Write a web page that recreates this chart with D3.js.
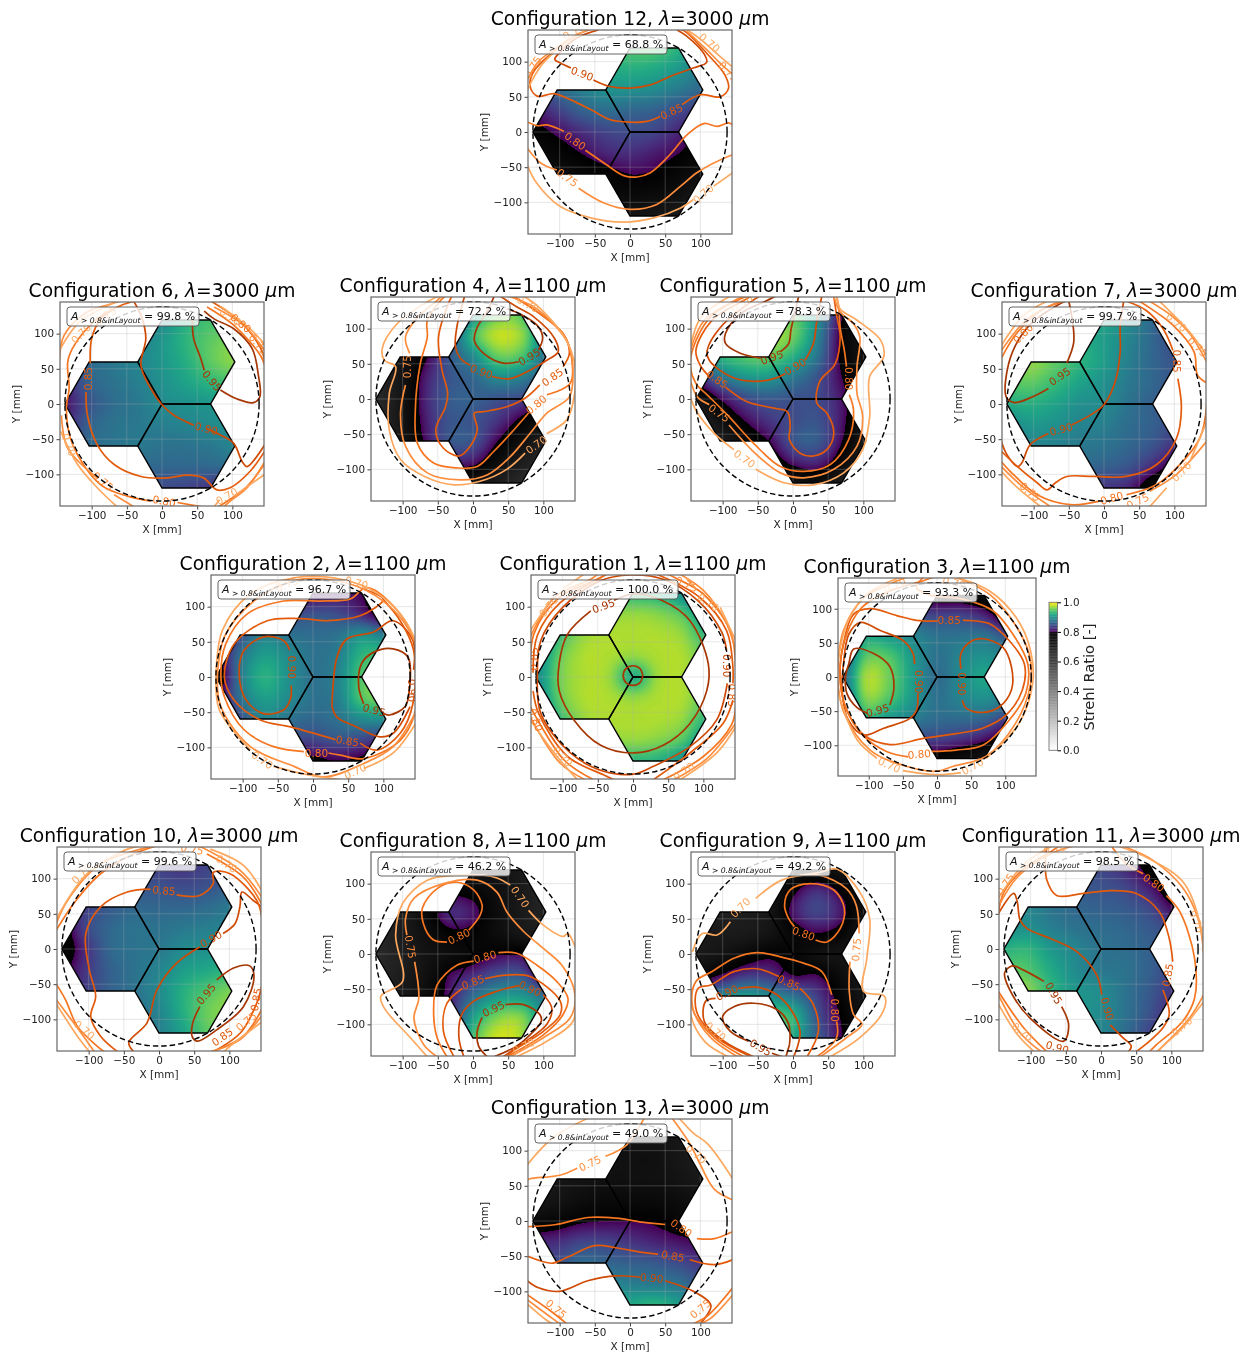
<!DOCTYPE html>
<html>
<head>
<meta charset="utf-8">
<script src="https://cdn.jsdelivr.net/npm/d3@7"></script>
<style>
body { margin: 0; background: #fff; }
text { font-family: "DejaVu Sans", sans-serif; }
svg { filter: blur(0.35px); }
</style>
</head>
<body>
<div id="chart"></div>
<script>
const configs = [12, 6, 4, 5, 7, 2, 1, 3, 10, 8, 9, 11, 13];
const wavelengths = [3000, 3000, 1100, 1100, 3000, 1100, 1100, 1100, 3000, 1100, 1100, 3000, 3000];
const areaInLayout = ['68.8', '99.8', '72.2', '78.3', '99.7', '96.7', '100.0', '93.3', '99.6', '46.2', '49.2', '98.5', '49.0'];
const levels = [0.70, 0.75, 0.80, 0.85, 0.90, 0.95];
const axisTicks = [-100, -50, 0, 50, 100];
const barTicks = [0, 0.2, 0.4, 0.6, 0.8, 1.0];
const gridX = [-140, -105, -70, -35, 0, 35, 70, 105];
const gridY = [120, 90, 60, 30, 0, -30, -60, -90, -120];

// strehl ratio sampled inside the layout, rows follow gridY, columns gridX
const strehl12 = [
  [.80,.86,.90,.93,.945,.945,.925,.88],
  [.82,.89,.905,.92,.925,.92,.905,.88],
  [.83,.865,.885,.90,.90,.895,.88,.865],
  [.81,.835,.86,.87,.865,.86,.845,.83],
  [.785,.805,.825,.84,.845,.84,.82,.80],
  [.76,.78,.80,.82,.825,.815,.80,.775],
  [.74,.755,.77,.785,.80,.795,.775,.75],
  [.72,.735,.75,.76,.77,.765,.75,.72],
  [.70,.71,.72,.73,.735,.73,.72,.70]];
const strehl6 = [
  [.83,.86,.87,.875,.895,.925,.94,.93],
  [.84,.865,.875,.885,.905,.93,.95,.96],
  [.83,.865,.88,.89,.905,.925,.95,.965],
  [.82,.86,.875,.885,.90,.915,.93,.94],
  [.81,.85,.87,.88,.895,.90,.905,.91],
  [.82,.86,.875,.88,.885,.89,.895,.90],
  [.83,.865,.875,.88,.875,.875,.88,.89],
  [.82,.85,.86,.865,.865,.865,.865,.87],
  [.80,.82,.84,.85,.845,.84,.83,.82]];
const strehl4 = [
  [.68,.68,.72,.78,.90,.955,.945,.86],
  [.68,.70,.76,.83,.935,.98,.965,.88],
  [.69,.72,.79,.85,.895,.95,.94,.87],
  [.68,.73,.81,.85,.865,.895,.885,.85],
  [.67,.73,.815,.855,.86,.85,.84,.80],
  [.66,.73,.81,.85,.85,.83,.79,.75],
  [.65,.72,.80,.85,.85,.80,.75,.70],
  [.64,.70,.77,.81,.81,.76,.71,.67],
  [.62,.66,.70,.74,.74,.71,.67,.63]];
const strehl5 = [
  [.80,.86,.90,.93,.95,.90,.80,.74],
  [.83,.90,.95,.97,.955,.89,.79,.74],
  [.84,.92,.945,.95,.925,.875,.79,.74],
  [.82,.87,.90,.905,.88,.85,.80,.75],
  [.74,.80,.84,.855,.85,.845,.81,.75],
  [.68,.75,.80,.83,.845,.85,.81,.74],
  [.65,.70,.76,.80,.85,.855,.80,.72],
  [.62,.66,.71,.76,.81,.82,.77,.70],
  [.60,.62,.66,.70,.74,.76,.71,.66]];
const strehl7 = [
  [.90,.91,.91,.915,.915,.895,.865,.83],
  [.93,.94,.935,.925,.91,.89,.865,.84],
  [.95,.965,.95,.93,.91,.885,.865,.85],
  [.945,.95,.935,.915,.90,.88,.865,.85],
  [.92,.925,.915,.90,.895,.875,.86,.845],
  [.89,.905,.90,.89,.885,.87,.86,.84],
  [.86,.885,.885,.88,.875,.865,.85,.825],
  [.83,.85,.86,.865,.86,.85,.82,.78],
  [.79,.80,.82,.83,.83,.82,.765,.72]];
const strehl2 = [
  [.74,.76,.79,.80,.80,.81,.80,.75],
  [.75,.80,.83,.84,.85,.845,.82,.78],
  [.76,.84,.885,.875,.87,.875,.90,.88],
  [.78,.87,.91,.895,.875,.885,.93,.94],
  [.76,.875,.925,.90,.875,.89,.945,.96],
  [.78,.87,.91,.895,.875,.885,.945,.96],
  [.76,.84,.885,.875,.865,.875,.895,.90],
  [.74,.79,.82,.84,.84,.85,.84,.82],
  [.72,.74,.76,.78,.79,.80,.79,.76]];
const strehl1 = [
  [.78,.83,.895,.925,.93,.925,.895,.83],
  [.82,.895,.945,.962,.967,.962,.945,.895],
  [.85,.93,.967,.975,.975,.975,.967,.93],
  [.88,.95,.975,.975,.967,.975,.975,.95],
  [.89,.955,.975,.97,.925,.97,.975,.955],
  [.88,.95,.975,.975,.967,.975,.975,.95],
  [.85,.93,.967,.975,.975,.975,.967,.93],
  [.82,.895,.945,.962,.967,.962,.945,.895],
  [.78,.83,.895,.925,.93,.925,.895,.83]];
const strehl3 = [
  [.76,.80,.82,.80,.78,.78,.76,.73],
  [.80,.84,.855,.85,.84,.84,.82,.77],
  [.83,.91,.905,.89,.875,.875,.875,.85],
  [.85,.945,.945,.905,.875,.89,.90,.885],
  [.86,.97,.955,.91,.87,.895,.915,.89],
  [.85,.96,.945,.905,.875,.89,.90,.88],
  [.82,.92,.905,.885,.87,.87,.865,.84],
  [.78,.83,.84,.84,.84,.83,.81,.77],
  [.73,.76,.78,.78,.78,.76,.74,.71]];
const strehl10 = [
  [.78,.81,.83,.84,.835,.83,.84,.84],
  [.79,.82,.84,.85,.85,.845,.85,.86],
  [.80,.835,.855,.865,.865,.865,.87,.88],
  [.78,.84,.865,.875,.875,.88,.885,.89],
  [.77,.825,.865,.875,.88,.895,.90,.90],
  [.79,.83,.86,.875,.89,.91,.92,.93],
  [.80,.835,.86,.875,.895,.925,.945,.96],
  [.80,.83,.85,.87,.89,.925,.955,.965],
  [.78,.80,.83,.86,.885,.915,.95,.95]];
const strehl8 = [
  [.66,.67,.68,.70,.72,.74,.72,.68],
  [.66,.68,.72,.78,.78,.75,.72,.68],
  [.67,.70,.76,.82,.81,.76,.72,.69],
  [.68,.71,.75,.79,.79,.76,.73,.71],
  [.67,.70,.74,.76,.78,.80,.80,.74],
  [.68,.71,.745,.80,.825,.85,.85,.78],
  [.69,.72,.76,.81,.87,.905,.905,.87],
  [.70,.73,.77,.82,.91,.96,.96,.89],
  [.70,.74,.78,.84,.94,.985,.97,.88]];
const strehl9 = [
  [.68,.66,.67,.70,.74,.76,.74,.70],
  [.68,.68,.69,.72,.79,.825,.79,.74],
  [.70,.70,.71,.73,.81,.84,.81,.74],
  [.72,.72,.72,.74,.78,.80,.78,.72],
  [.72,.74,.77,.79,.78,.75,.74,.72],
  [.77,.80,.83,.83,.80,.80,.76,.72],
  [.85,.89,.91,.895,.875,.835,.78,.73],
  [.88,.94,.965,.95,.93,.85,.795,.74],
  [.88,.93,.96,.94,.92,.86,.80,.74]];
const strehl11 = [
  [.86,.86,.86,.85,.84,.82,.78,.72],
  [.87,.87,.86,.855,.85,.84,.81,.76],
  [.88,.89,.875,.865,.86,.855,.84,.80],
  [.895,.90,.885,.875,.87,.865,.855,.84],
  [.925,.93,.905,.89,.875,.87,.86,.845],
  [.95,.945,.92,.895,.88,.875,.86,.84],
  [.97,.965,.93,.905,.895,.875,.855,.83],
  [.97,.96,.93,.905,.895,.875,.85,.82],
  [.96,.95,.92,.90,.89,.87,.84,.81]];
const strehl13 = [
  [.70,.71,.72,.73,.74,.74,.73,.70],
  [.71,.72,.73,.74,.75,.75,.73,.71],
  [.72,.73,.74,.75,.75,.75,.74,.72],
  [.73,.74,.76,.77,.77,.77,.76,.74],
  [.77,.78,.795,.80,.80,.795,.78,.77],
  [.82,.825,.84,.84,.83,.82,.81,.80],
  [.85,.85,.87,.865,.86,.855,.845,.83],
  [.88,.885,.90,.895,.885,.88,.875,.85],
  [.89,.90,.92,.925,.92,.93,.91,.87]];

// contour traces: [level, x0, y0, x1, y1, ...] in mm
const lines12 = [
  [.90,-52,74,-30,65,0,62.5,29,67,62,81,90,91,109,99,106,110,81,136,67,145],
  [.90,-84,91,-99,98,-107,103,-101,112,-75,134,-45,145],
  [.85,43,22,24,15,0,14,-28,17.5,-56,32,-85,46,-108,54.5,-132,51,-142,65,-137,86,-111,112,-75,138,-56,146],
  [.85,74,39,100,53,128,50,140,62,135,81,109,112,81,141,72,146],
  [.80,-145,14,-132,9,-118,10,-94,1],
  [.80,-63.5,-26,-37,-44,-9,-62,10,-64,29,-58,57,-32,81,-4,105,12,124,8,140,13,146,10],
  [.75,-146,-23,-127,-44,-104,-54],
  [.75,-73,-80,-37,-101,0,-110,38,-103,72,-77,95,-58,119,-44,146,-32],
  [.75,-146,74,-130,100,-101,122,-71,141],
  [.75,146,82,128,98,109,117,81,143],
  [.70,-146,-47,-133,-72,-99,-106,-56,-122,-9,-128,34,-122,72,-108,90,-96],
  [.70,119,-77,146,-58],
  [.70,-146,60,-125,96,-90,128,-60,146],
  [.70,146,92,125,110,100,132,80,146]];
const labels12 = [[.90,-68,83,20],[.85,59,29,-25],[.80,-78,-13,35],[.75,-89,-65,35],[.70,104,-88,-40],[.70,113,127,40],[.75,140,86,45],[.70,-80,143,-30],[.75,-138,92,-60]];

const lines6 = [
  [.95,43,119,45,93,55,65,60,48],
  [.95,83,20,107,7,130,2,139,10,137,41,128,79,102,107,74,121,60,132],
  [.90,63,-35,83,-44,102,-56,114,-82,121,-89,133,-77,146,-58],
  [.90,45,-30,17,-16,0,-1,-16,22,-30,55,-23,93,-28,121,-40,146],
  [.85,-108,17,-106,-16,-92,-58,-68,-86,-30,-103,8,-105,36,-101,59,-105,78,-122,97,-119,125,-96,146,-67],
  [.85,-102,58,-100,93,-87,121,-63,138,-40,146],
  [.85,70,146,110,118,140,80,146,62],
  [.80,-58,140,-92,121,-125,83,-134,60,-132,22,-136,-6,-127,-58,-87,-115,-49,-131,-16,-138],
  [.80,22,-140,55,-146],
  [.80,64,138,102,112,140,69,146,55],
  [.80,146,-85,120,-118,90,-140,80,-146],
  [.75,-146,60,-139,98,-106,131,-73,142,-60,146],
  [.75,-143,-16,-134,-63,-92,-105],
  [.75,-68,-129,-40,-146],
  [.75,74,138,116,112,146,76],
  [.75,146,-82,121,-119,97,-138,88,-146],
  [.70,-146,76,-117,117,-77,140,-65,146],
  [.70,-144,-39,-120,-86,-92,-119,-64,-146],
  [.70,83,139,125,107,146,85],
  [.70,146,-100,102,-131],[.70,82,-136,74,-146]];
const labels6 = [[.95,71,33,50],[.90,63,-35,15],[.85,-105,36,-90],[.80,3,-138,10],[.75,-84,-110,40],[.70,-132,-58,70],[.70,92,-131,-30],[.70,97,124,35],[.80,112,115,40],[.75,137,85,50],[.70,-115,100,-45],[.75,-80,125,-35]];

const lines4 = [
  [.95,65,53,43,51,15,65,2,83,6,102,20,124,30,146],
  [.95,93,69,99,88,91,105,67,121,48,128],
  [.90,-4,48,-18,58,-25,74,-23,102,-15,135,-12,146],
  [.90,27,32,53,29,81,41,105,55,121,67,116,86,86,117,62,131,39,146],
  [.85,95,20,74,1,48,-11,15,-18,2,-20,6,-44,-4,-67,-20,-81,-42,-70,-53,-44,-39,-11,-36,8,-44,41,-49,88,-34,138,-30,146],
  [.85,128,46,137,65,128,93,95,121,58,146],
  [.80,79,-20,58,-44,29,-75,6,-96,-23,-98,-56,-91,-79,-63,-82,-16,-75,50,-65,88,-65,112,-46,140,-40,146],
  [.80,105,6,138,22,140,60,128,93,86,128,55,146],
  [.75,-96,20,-103,-20,-96,-67,-65,-105,-18,-115,20,-108,53,-82,81,-49,105,-20,137,3,142,41,135,79,91,128,50,146],
  [.75,-90,65,-96,88,-79,116,-51,140,-45,146],
  [.70,74,-77,48,-100,10,-117,-27,-122,-65,-112,-103,-86,-119,-44,-119,8,-110,46,-126,55,-129,72,-108,107,-70,135,-50,146],
  [.70,105,-49,133,-30,142,-6,146,41,133,83,91,133,72,146]];
const labels4 = [[.95,80,60,-30],[.90,12,39,20],[.85,113,31,-35],[.80,90,-8,-40],[.75,-93,46,-90],[.70,90,-65,-35],[.70,78,135,30]];

const lines5 = [
  [.95,-18,67,-6,79,-3,98,3,124,8,146],
  [.95,-46,58,-75,65,-96,79,-96,93,-75,121,-37,140,-25,146],
  [.90,-11,36,-27,29,-56,25,-89,32,-119,55,-122,69,-103,102,-60,138,-48,146],
  [.90,17,55,29,79,34,112,41,146],
  [.85,-96,17,-65,-4,-27,-13,-8,-18,-4,-39,-5,-58,10,-77,29,-81,48,-72,58,-49,48,-20,34,-6,38,25,60,50,67,88,62,119,58,146],
  [.85,-119,32,-132,48,-138,69,-115,112,-70,140,-60,146],
  [.80,80,6,86,-16,79,-58,53,-93,15,-103,-18,-96,-56,-63,-91,-25,-122,6,-138,22,-146,50,-138,83,-115,119,-75,142,-65,146],
  [.80,76,46,73,69,67,102,65,131,62,146],
  [.75,-119,-8,-136,3,-146,27],
  [.75,-91,-37,-56,-75,-18,-105,15,-112,58,-100,91,-67,99,-25,91,8,91,46,95,88,86,107,67,124,58,146],
  [.75,-146,69,-126,112,-79,142,-70,146],
  [.70,-84,-72,-112,-49,-138,-16,-146,3],
  [.70,-146,74,-131,116,-100,140,-89,146],
  [.70,-53,-100,-13,-119,29,-122,72,-105,99,-72,109,-25,109,32,129,60,125,83,91,112,67,128,62,146]];
const labels5 = [[.95,-30,59,-20],[.90,3,46,-30],[.85,-108,28,35],[.80,79,29,90],[.75,-105,-20,35],[.70,-69,-85,35],[.70,-72,135,-30]];

const lines7 = [
  [.95,-53,58,-43,88,-46,126,-50,146],
  [.95,-79,22,-102,10,-128,2,-139,10,-138,46,-126,83,-102,116,-67,140,-55,146],
  [.90,-46,-30,-15,-13,0,-1,16,32,23,74,23,112,28,146],
  [.90,-79,-42,-105,-58,-117,-84,-123,-89,-138,-72,-146,-53],
  [.85,105,36,110,-6,103,-49,75,-86,32,-103,-15,-103,-53,-103,-69,-112,-81,-122,-95,-112,-123,-89,-146,-67],
  [.85,98,76,84,107,60,133,32,146],
  [.80,32,-129,70,-117,98,-96,136,-49,146,-1],
  [.80,146,30,133,41,128,74,98,112,60,140,50,146],
  [.80,-6,-138,-48,-143,-95,-129,-133,-96,-146,-82],
  [.80,-146,65,-123,102,-86,135,-55,146],
  [.75,65,-124,103,-100,146,-53],
  [.75,146,60,122,100,98,124,65,146],
  [.75,-146,76,-109,121,-72,142,-60,146],
  [.75,-146,-89,-114,-119,-76,-146],
  [.70,89,-119,65,-146],
  [.70,122,-82,146,-25],
  [.70,79,146,122,102,146,69],
  [.70,-146,83,-114,126,-81,146],
  [.70,-146,-96,-123,-119,-90,-146]];
const labels7 = [[.95,-63,39,-35],[.90,-61,-36,-15],[.85,103,61,90],[.80,11,-134,-15],[.75,48,-138,-25],[.70,110,-96,-45],[.70,103,116,40],[.75,133,81,45],[.80,-115,100,-45],[.75,-105,-125,40]];

const lines2 = [
  [.95,72,-38,65,-14,69,19,86,35,114,40,135,28,137,-19,131,-42,109,-54,100,-52],
  [.90,-33,38,-42,52,-70,57,-98,38,-105,5,-95,-33,-70,-52,-42,-47,-32,-31,-31,-12],
  [.90,27,-42,28,-19,34,28,48,54,86,64,114,80,142,52,143,10],
  [.90,138,-42,114,-80,95,-85,62,-71,34,-57,27,-42],
  [.85,32,-89,-32,-71,-75,-61,-112,-33,-126,0,-112,47,-65,80,-18,83,20,80,67,87,86,97,100,110,72,125],
  [.85,67,-94,91,-104,124,-80,142,-38,143,38,124,80,100,110],
  [.80,-13,-106,-56,-99,-98,-75,-126,-28,-131,5,-124,47,-93,90,-42,108,10,108,53,111,76,127,114,101,146,47,146,-47,124,-90,72,-116,39,-111,22,-108],
  [.75,-136,0,-131,-42,-89,-99,-27,-127,15,-142,72,-123,114,-99,146,-50],
  [.75,-136,0,-126,57,-84,108,-27,137,20,139,76,123,124,85,146,47],
  [.70,-138,0,-133,-47,-89,-104],
  [.70,-56,-127,-8,-139,39,-146],
  [.70,72,-130,114,-108,146,-66],
  [.70,-138,0,-129,66,-89,118,-27,141,29,141,81,125,124,90,146,52]];
const labels2 = [[.95,87,-47,15],[.90,-30,14,90],[.90,141,-19,90],[.85,49,-91,10],[.80,5,-108,0],[.70,-72,-118,35],[.70,60,-134,-25],[.75,-37,132,-20],[.70,62,134,15]];

const lines1 = [
  [.95,-60,94,-93,61,-105,19,-105,-19,-84,-61,-46,-97,1,-108,43,-97,81,-66,105,-19,107,19,81,80,43,108,1,118,-27,109],
  [.95,14,2,10,12,0,16,-10,12,-14,2,-10,-8,0,-12,10,-8,14,2],
  [.90,133,38,126,64,93,108,43,139,-4,145,-46,137,-100,99,-131,52,-136,0,-131,-52,-89,-108,-42,-134,1,-138,29,-127,81,-99,119,-61,134,-9],
  [.85,142,-9,142,14,133,66,95,113,34,146],
  [.85,-37,146,-103,106,-136,59,-142,6],
  [.85,-142,-20,-134,-52,-93,-113,-42,-139,-27,-146],
  [.85,29,-146,81,-108,128,-66,142,-33],
  [.80,146,14,138,66,100,118,62,140,50,146],
  [.80,-146,5,-141,61,-105,113,-46,141,-40,146],
  [.80,-146,-42,-98,-118,-56,-146],
  [.80,43,-146,100,-113,140,-68,146,-42],
  [.75,146,38,131,80,100,123,67,146],
  [.75,-146,57,-112,113,-60,139,-50,146],
  [.75,-146,-57,-103,-123,-68,-146],
  [.75,58,-146,105,-116,146,-66],
  [.70,146,52,124,99],[.70,90,125,76,140],
  [.70,-146,66,-120,105],[.70,-100,125,-70,146],
  [.70,-146,-61,-108,-113,-79,-146],
  [.70,67,-146,119,-108,146,-71]];
const labels1 = [[.95,-42,101,-20],[.90,133,16,90],[.85,140,-26,90],[.85,-141,26,-90],[.80,-138,-61,70],[.70,107,106,35],[.75,76,132,25],[.70,-120,100,-50],[.70,-100,-113,45],[.70,72,-134,-35]];

const lines3 = [
  [.95,-102,-53,-117,-45,-132,-24,-134,0,-129,20,-122,41,-92,34,-69,15,-63,-15,-69,-41],
  [.90,-33,19,-35,34,-49,53,-83,68,-112,80,-129,63,-137,19,-139,-19,-130,-63,-107,-85,-78,-75,-40,-61,-30,-49,-28,-24],
  [.90,35,12,35,34,48,51,67,56,96,44,109,15,109,-19,91,-44,67,-52,43,-46,37,-34],
  [.85,1,82,-30,83,-59,90,-98,100,-122,92,-137,49,-142,0,-134,-44,-107,-85,-69,-99,-20,-90,28,-83,67,-75,101,-56,125,-19,128,19,106,53,77,78,38,83],
  [.80,-8,-109,28,-107,67,-100,106,-63,130,-24,133,19,111,63,82,97,38,114,-10,120,-30,131,-20,146],
  [.80,-42,-117,-74,-109,-107,-87,-132,-49,-142,0,-134,58,-110,102,-69,126,-20,141,-5,146],
  [.75,-146,0,-136,-53,-98,-107,-44,-131,-1,-138,23,-131,72,-116,115,-68,137,-10,135,34,111,82,77,121,28,146],
  [.75,-146,0,-137,68,-107,116,-69,136,-45,146],
  [.70,-146,-19,-117,-92,-88,-119],
  [.70,-50,-137,-1,-143,35,-140],
  [.70,72,-119,120,-68,140,-10,137,39,116,87,77,126,28,146],
  [.70,-146,15,-132,78,-103,121,-54,146]];
const labels3 = [[.95,-87,-49,-15],[.90,-26,-7,90],[.90,37,-10,90],[.85,18,83,0],[.80,-26,-113,-5],[.70,-70,-129,25],[.70,52,-131,-30],[.70,-62,135,-25],[.70,25,138,15]];

const lines10 = [
  [.95,82,-44,106,-27,129,-24,135,-39,120,-82,82,-115,54,-131,47,-124,48,-105,58,-82],
  [.90,91,22,108,36,115,60,118,81,134,69,146,60],
  [.90,58,3,25,-20,-3,-58,-17,-105,-43,-133,-36,-146],
  [.85,-12,85,-45,81,-83,60,-104,22,-99,-30,-90,-67,-97,-96,-83,-124,-59,-146],
  [.85,25,77,58,76,77,93,77,109,101,107,139,69,146,46],
  [.85,146,-53,139,-77,116,-119,77,-146],
  [.80,-146,-50,-133,-72,-116,-110,-88,-138,-78,-146],
  [.80,-146,27,-118,69,-83,107,-36,135,-5,146],
  [.80,68,135,120,102,146,64],
  [.80,146,-86,120,-124,76,-146],
  [.75,-146,36,-130,69,-83,121,-26,142,-10,146],
  [.75,58,146,115,112,146,74],
  [.75,-146,-72,-111,-119,-92,-146],
  [.75,146,-95,115,-129,73,-146],
  [.70,-146,41,-139,55,-102,107,-45,142,-30,146],
  [.70,73,142,120,119,146,83],
  [.70,-146,-78,-116,-124,-99,-146],
  [.70,146,-104,106,-134,92,-146]];
const labels10 = [[.95,67,-64,-50],[.90,74,14,-30],[.85,7,83,5],[.70,96,121,35],[.70,-110,107,-45],[.75,47,142,10],[.70,-106,-115,40],[.75,124,-103,-40],[.85,138,-72,-80],[.85,90,-125,-35]];

const lines8 = [
  [.95,13,-90,6,-110,8,-131,20,-146],
  [.95,46,-72,72,-72,95,-86,97,-96,81,-115,62,-131,30,-146],
  [.90,65,-45,34,-53,1,-67,-16,-86,-20,-119,-13,-146],
  [.90,100,-58,112,-77,105,-100,62,-133,43,-146],
  [.85,17,-35,48,-30,81,-32,124,-67,124,-86,100,-110,58,-137,48,-146],
  [.85,-15,-49,-37,-70,-42,-110,-27,-146],
  [.80,36,2,62,1,91,-16,119,-39,135,-63,128,-86,100,-115,48,-146],
  [.80,1,-10,-23,-16,-51,-44,-56,-82,-51,-119,-37,-146],
  [.80,-6,34,10,55,13,69,1,91,-23,102,-51,93,-72,65,-68,36,-56,20,-37,17],
  [.75,-94,27,-96,50,-84,79,-42,100,6,105,34,88,48,60,72,32,100,8,128,-18,145,-58,138,-91,100,-119,53,-146],
  [.75,-83,-11,-77,-63,-84,-91,-70,-129,-51,-146],
  [.70,53,98,34,108,15,112,-23,112,-65,105,-100,72,-110,27,-100,-39,-131,-60,-126,-77,-89,-119,-65,-146],
  [.70,79,62,100,41,128,25,135,29,146,8],
  [.70,146,-53,142,-96,105,-124,62,-146]];
const labels8 = [[.95,29,-78,-25],[.90,81,-49,25],[.85,0,-40,-20],[.80,17,-4,-15],[.80,-20,25,-25],[.75,-89,10,80],[.70,67,81,55],[.70,72,-131,-25]];

const lines9 = [
  [.95,-30,-141,-15,-146],[.95,-5,-129,-6,-100,-23,-79,-56,-70,-84,-75,-100,-89,-89,-110,-63,-124],[.95,-5,-129,-10,-146],
  [.90,-78,-49,-51,-47,-23,-58,-1,-82,10,-110,6,-133,1,-146],
  [.90,-110,-63,-124,-67,-126,-96,-98,-124,-56,-146],
  [.85,-20,-32,-51,-21,-84,-25,-117,-44,-135,-49,-137,-82,-108,-119,-60,-146],
  [.85,10,-49,29,-72,36,-110,20,-146],
  [.80,55,-58,41,-25,15,-13,-18,-4,-51,2,-84,-6,-115,-25,-138,-39,-143,-77,-112,-119,-70,-146],
  [.80,62,-96,62,-119,34,-146],
  [.80,32,20,48,17,67,36,73,65,58,91,25,100,-4,91,-12,69,-6,50,2,39],
  [.75,81,-11,80,-53,86,-86,98,-100,76,-119,39,-146],
  [.75,94,29,90,69,76,93,38,112,10,112],
  [.75,-144,-49,-141,-82,-117,-119,-79,-146],
  [.70,-89,46,-108,27,-129,29,-143,3],
  [.70,-53,79,-16,105,38,116,62,121,95,88,109,50,105,-6,100,-53,130,-60,128,-82,95,-119,53,-146],
  [.70,-146,-53,-146,-85,-125,-125,-92,-146]];
const labels9 = [[.95,-46,-133,30],[.90,-94,-55,-25],[.85,-6,-41,25],[.80,60,-80,90],[.80,15,29,20],[.75,90,6,-85],[.70,-75,66,-45],[.70,-110,-110,40]];

const lines11 = [
  [.95,-81,-46,-110,-30,-126,-24,-137,-34,-126,-65,-96,-103,-53,-131,-46,-108,-56,-82],
  [.90,1,-65,-6,-37,-34,-4,-72,15,-105,29,-115,41,-119,67,-124,79,-146,50],
  [.90,13,-108,31,-126,43,-138,39,-146],
  [.85,102,-18,97,15,83,53,50,79,13,83,-25,79,-63,76,-77,98,-79,124,-77,146],
  [.85,88,-58,97,-93,88,-112,69,-131,50,-146],
  [.80,93,76,112,53,133,-13,133,-70,116,-103,79,-136,69,-146],
  [.80,60,107,36,121,15,146],
  [.80,-146,50,-138,81,-110,114,-72,138,-60,146],
  [.80,-146,-60,-110,-112,-77,-146],
  [.75,146,-4,138,43,117,86,74,126,32,146],
  [.75,146,-65,126,-98,88,-138,80,-146],
  [.75,-146,60,-119,102,-72,135,-40,146],
  [.75,-146,-65,-115,-119,-85,-146],
  [.70,146,-8,140,39,117,95,69,128,25,146],
  [.70,146,-75,116,-112,79,-146],
  [.70,-146,72,-110,120,-70,146],
  [.70,-146,-78,-120,-120,-95,-146]];
const labels11 = [[.95,-67,-63,60],[.90,9,-85,75],[.85,95,-37,-80],[.80,75,94,35],[.70,136,39,70],[.75,-136,92,-55],[.70,-66,142,-15],[.90,-62,-140,15],[.70,-112,-118,40],[.70,115,-110,-40]];

const lines13 = [
  [.80,50,-5,20,-2,-20,4,-60,5,-105,-5,-145,-8],
  [.80,95,-25,120,-25,146,-15],
  [.85,40,-47,20,-45,-20,-38,-50,-35,-90,-52,-110,-60,-146,-50],
  [.85,85,-55,120,-62,146,-55],
  [.90,15,-80,-20,-78,-60,-85,-100,-100,-130,-95,-146,-85],
  [.90,50,-85,90,-100,115,-120,100,-146],
  [.75,-75,75,-100,65,-142,60,-146,58],
  [.75,-35,92,-5,108,20,146],
  [.75,146,30,120,45,100,80,85,110,60,146],
  [.70,146,60,110,110,90,125,70,146],
  [.70,-146,80,-110,118,-60,146],
  [.80,-146,-105,-110,-130,-90,-146],
  [.75,-146,-112,-115,-135,-100,-146],
  [.70,-146,-118,-120,-140,-110,-146],
  [.80,146,-95,110,-135,90,-146],
  [.75,146,-105,115,-138,100,-146]];
const labels13 = [[.80,73,-10,35],[.85,61,-50,10],[.90,31,-81,5],[.75,-57,82,-25],[.70,94,95,40],[.75,100,-125,-40],[.75,-105,-125,40]];

const strehlByConfig = new Map([[12, strehl12], [6, strehl6], [4, strehl4], [5, strehl5], [7, strehl7], [2, strehl2], [1, strehl1], [3, strehl3], [10, strehl10], [8, strehl8], [9, strehl9], [11, strehl11], [13, strehl13]]);
const linesByConfig = new Map([[12, lines12], [6, lines6], [4, lines4], [5, lines5], [7, lines7], [2, lines2], [1, lines1], [3, lines3], [10, lines10], [8, lines8], [9, lines9], [11, lines11], [13, lines13]]);
const labelsByConfig = new Map([[12, labels12], [6, labels6], [4, labels4], [5, labels5], [7, labels7], [2, labels2], [1, labels1], [3, labels3], [10, labels10], [8, labels8], [9, labels9], [11, labels11], [13, labels13]]);

// layout: left, top, size of each axes box in the page
const panelBoxes = new Map([
  [12, [528, 30, 204]], [6, [60, 302, 204]], [4, [371, 297, 204]], [5, [691, 297, 204]], [7, [1002, 302, 204]],
  [2, [211, 575, 204]], [1, [531, 575, 204]], [3, [838, 578, 198]],
  [10, [57, 847, 204]], [8, [371, 852, 204]], [9, [691, 852, 204]], [11, [999, 847, 204]],
  [13, [528, 1119, 204]]
]);

const hexCentres = [[34.5, 59.75], [-69, 0], [34.5, -59.75]];
const hexRadius = 69;
const mirrorRadius = 138;
const axisLimit = 145;

const viridisPart = d3.scaleSequential(d3.interpolateViridis).domain([0.8, 1]);
const grayPart = d3.scaleLinear().domain([0, 0.8]).range(['#ffffff', '#000000']);
const strehlColor = v => d3.color(v < 0.8 ? grayPart(v) : viridisPart(Math.min(v, 1)));
const levelColor = d3.scaleOrdinal().domain(levels).range(['#fda85f', '#fd8d3c', '#f57520', '#e35a0b', '#cf4a05', '#a63603']);

const svg = d3.select('#chart').append('svg')
  .attr('width', 1255)
  .attr('height', 1353);
const defs = svg.append('defs');

function catmull(p0, p1, p2, p3, t) {
  return p1 + 0.5 * t * (p2 - p0 + t * (2 * p0 - 5 * p1 + 4 * p2 - p3 + t * (3 * (p1 - p2) + p3 - p0)));
}

function sampleGrid(grid, mx, my) {
  const cols = gridX.length, rows = gridY.length;
  const fx = Math.max(0, Math.min(cols - 1.001, (mx - gridX[0]) / (gridX[1] - gridX[0])));
  const fy = Math.max(0, Math.min(rows - 1.001, (my - gridY[0]) / (gridY[1] - gridY[0])));
  const ix = Math.floor(fx), iy = Math.floor(fy);
  const tx = fx - ix, ty = fy - iy;
  const rowVal = r => {
    const row = grid[Math.max(0, Math.min(rows - 1, r))];
    const at = c => row[Math.max(0, Math.min(cols - 1, c))];
    return catmull(at(ix - 1), at(ix), at(ix + 1), at(ix + 2), tx);
  };
  return catmull(rowVal(iy - 1), rowVal(iy), rowVal(iy + 1), rowVal(iy + 2), ty);
}

function heatmapUrl(grid, x, y, size) {
  const canvas = document.createElement('canvas');
  canvas.width = size;
  canvas.height = size;
  const ctx = canvas.getContext('2d');
  const img = ctx.createImageData(size, size);
  for (let j = 0; j < size; j++) {
    for (let i = 0; i < size; i++) {
      const c = strehlColor(sampleGrid(grid, x.invert(i + 0.5), y.invert(j + 0.5)));
      const k = (j * size + i) * 4;
      img.data[k] = c.r;
      img.data[k + 1] = c.g;
      img.data[k + 2] = c.b;
      img.data[k + 3] = 255;
    }
  }
  ctx.putImageData(img, 0, 0);
  return canvas.toDataURL();
}

function hexPoints(centre) {
  return d3.range(6).map(k => [
    centre[0] + hexRadius * Math.cos(k * Math.PI / 3),
    centre[1] + hexRadius * Math.sin(k * Math.PI / 3)
  ]);
}

function drawPanel(config, idx) {
  const [left, top, size] = panelBoxes.get(config);
  const x = d3.scaleLinear().domain([-axisLimit, axisLimit]).range([0, size]);
  const y = d3.scaleLinear().domain([-axisLimit, axisLimit]).range([size, 0]);
  const g = svg.append('g').attr('transform', `translate(${left},${top})`);

  const hexPath = c => 'M' + hexPoints(c).map(p => `${x(p[0])},${y(p[1])}`).join('L') + 'Z';

  defs.append('clipPath').attr('id', `hex-${config}`)
    .selectAll('path').data(hexCentres).join('path').attr('d', hexPath);
  defs.append('clipPath').attr('id', `box-${config}`)
    .append('rect').attr('width', size).attr('height', size);

  g.append('image')
    .attr('width', size)
    .attr('height', size)
    .attr('href', heatmapUrl(strehlByConfig.get(config), x, y, size))
    .attr('clip-path', `url(#hex-${config})`);

  // grid sits above the image, faint
  g.append('g').selectAll('line').data(axisTicks).join('line')
    .attr('x1', d => x(d)).attr('x2', d => x(d))
    .attr('y1', 0).attr('y2', size)
    .attr('stroke', '#b0b0b0').attr('stroke-opacity', 0.3);
  g.append('g').selectAll('line').data(axisTicks).join('line')
    .attr('y1', d => y(d)).attr('y2', d => y(d))
    .attr('x1', 0).attr('x2', size)
    .attr('stroke', '#b0b0b0').attr('stroke-opacity', 0.3);

  g.append('g').selectAll('path').data(hexCentres).join('path')
    .attr('d', hexPath)
    .attr('fill', 'none')
    .attr('stroke', '#000')
    .attr('stroke-width', 1.4);

  const line = d3.line()
    .x(d => x(d[0]))
    .y(d => y(d[1]))
    .curve(d3.curveCatmullRom.alpha(0.5));
  const plot = g.append('g').attr('clip-path', `url(#box-${config})`);

  plot.selectAll('path.level').data(linesByConfig.get(config)).join('path')
    .attr('class', 'level')
    .attr('d', d => {
      const pts = [];
      for (let i = 1; i < d.length; i += 2) pts.push([d[i], d[i + 1]]);
      return line(pts);
    })
    .attr('fill', 'none')
    .attr('stroke', d => levelColor(d[0]))
    .attr('stroke-width', 1.7);

  plot.selectAll('text').data(labelsByConfig.get(config)).join('text')
    .attr('transform', d => `translate(${x(d[1])},${y(d[2])}) rotate(${d[3]})`)
    .attr('text-anchor', 'middle')
    .attr('dy', '0.36em')
    .attr('font-size', 10.5)
    .attr('fill', d => levelColor(d[0]))
    .text(d => d[0].toFixed(2));

  plot.append('circle')
    .attr('cx', x(0)).attr('cy', y(0))
    .attr('r', x(mirrorRadius) - x(0))
    .attr('fill', 'none')
    .attr('stroke', '#000')
    .attr('stroke-width', 1.4)
    .attr('stroke-dasharray', '5.5,3');

  // axes
  const xAxis = g.append('g').attr('transform', `translate(0,${size})`)
    .call(d3.axisBottom(x).tickValues(axisTicks).tickSize(3.5).tickPadding(2.5));
  const yAxis = g.append('g')
    .call(d3.axisLeft(y).tickValues(axisTicks).tickSize(3.5).tickPadding(2.5));
  [xAxis, yAxis].forEach(a => {
    a.selectAll('text').attr('font-size', 10.4).attr('font-family', '"DejaVu Sans", sans-serif').attr('fill', '#222');
    a.selectAll('line').attr('stroke', '#444');
    a.select('.domain').remove();
  });
  g.append('rect').attr('width', size).attr('height', size)
    .attr('fill', 'none').attr('stroke', '#666').attr('stroke-width', 1.2);

  g.append('text')
    .attr('x', size / 2).attr('y', size + 27)
    .attr('text-anchor', 'middle')
    .attr('font-size', 10.5)
    .attr('fill', '#222')
    .text('X [mm]');
  g.append('text')
    .attr('transform', `translate(-40,${size / 2}) rotate(-90)`)
    .attr('text-anchor', 'middle')
    .attr('font-size', 10.5)
    .attr('fill', '#222')
    .text('Y [mm]');

  const title = g.append('text')
    .attr('x', size / 2).attr('y', -5)
    .attr('text-anchor', 'middle')
    .attr('font-size', 18.7)
    .attr('fill', '#000');
  title.append('tspan').text(`Configuration ${config}, `);
  title.append('tspan').attr('font-style', 'italic').text('λ');
  title.append('tspan').text(`=${wavelengths[idx]} `);
  title.append('tspan').attr('font-style', 'italic').text('μ');
  title.append('tspan').text('m');

  // area annotation box
  const boxW = areaInLayout[idx].length > 4 ? 140 : 132;
  g.append('rect')
    .attr('x', 7).attr('y', 5)
    .attr('width', boxW).attr('height', 19)
    .attr('rx', 3)
    .attr('fill', '#fff').attr('fill-opacity', 0.8)
    .attr('stroke', '#555').attr('stroke-width', 0.9);
  const note = g.append('text')
    .attr('x', 11).attr('y', 17.5)
    .attr('font-size', 11)
    .attr('fill', '#111');
  note.append('tspan').attr('font-style', 'italic').text('A');
  note.append('tspan').attr('font-size', 7.6).attr('dy', 3).attr('font-style', 'italic').text(' > 0.8&inLayout');
  note.append('tspan').attr('dy', -3).text(` = ${areaInLayout[idx]} %`);
}

configs.forEach(drawPanel);

// colorbar
const barScale = d3.scaleLinear().domain([0, 1]).range([750.3, 602.3]);
const bar = svg.append('g');
bar.selectAll('rect').data(d3.range(0, 1, 0.005)).join('rect')
  .attr('x', 1049)
  .attr('width', 8.5)
  .attr('y', d => barScale(d + 0.005))
  .attr('height', barScale(0) - barScale(0.005) + 0.3)
  .attr('fill', d => strehlColor(d + 0.0025).formatHex());
bar.append('rect')
  .attr('x', 1049).attr('y', 602.3)
  .attr('width', 8.5).attr('height', 148)
  .attr('fill', 'none').attr('stroke', '#777').attr('stroke-width', 0.9);
const barAxis = svg.append('g').attr('transform', 'translate(1057.5,0)')
  .call(d3.axisRight(barScale).tickValues(barTicks).tickFormat(d3.format('.1f')).tickSize(3.5).tickPadding(2));
barAxis.selectAll('text').attr('font-size', 10.4).attr('font-family', '"DejaVu Sans", sans-serif').attr('fill', '#222');
barAxis.select('.domain').remove();
svg.append('text')
  .attr('transform', 'translate(1094,677) rotate(-90)')
  .attr('text-anchor', 'middle')
  .attr('font-size', 14.7)
  .attr('fill', '#222')
  .text('Strehl Ratio [-]');
</script>
</body>
</html>
